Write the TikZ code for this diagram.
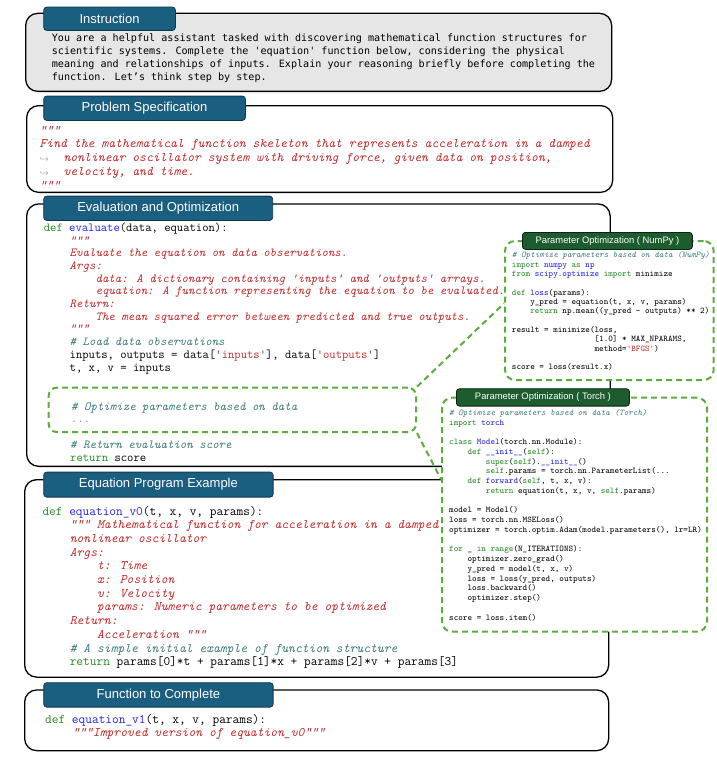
\documentclass[tikz,border=0pt]{standalone}
\usepackage{fontspec}
\usepackage{xcolor}
\usetikzlibrary{calc}

\newfontfamily\titlefont{Liberation Sans}
\newfontfamily\promptfont{DejaVu Sans Mono}[Ligatures=TeXOff]

\definecolor{tabblue}{HTML}{1A5E80}
\definecolor{tabline}{HTML}{0E3A52}
\definecolor{tabgreen}{HTML}{1D5C2E}
\definecolor{dashgreen}{HTML}{5BAE3C}
\definecolor{instrgray}{HTML}{E6E6E6}
\definecolor{kwgreen}{HTML}{218B21}
\definecolor{fnblue}{HTML}{2020F0}
\definecolor{strred}{HTML}{C42A2A}
\definecolor{cmtteal}{HTML}{3D7B7B}

% code colouring
\newcommand{\kw}[1]{\textcolor{kwgreen}{#1}}
\newcommand{\fn}[1]{\textcolor{fnblue}{#1}}
\newcommand{\strg}[1]{\textcolor{strred}{#1}}
\newcommand{\doc}[1]{\textcolor{strred}{\itshape #1}}
\newcommand{\cmt}[1]{\textcolor{cmtteal}{\itshape #1}}
\newcommand{\ind}{\hspace*{2.1em}}
\newcommand{\sk}[1]{\hspace*{#1\dimexpr0.525em\relax}}
\newcommand{\hk}{\makebox[24pt][l]{\textcolor{gray}{\upshape\footnotesize$\hookrightarrow$}}}

\begin{document}
\begin{tikzpicture}[x=1pt,y=-1pt,
    box/.style={draw=black,line width=1.3pt,rounded corners=12pt,inner sep=0pt,anchor=north west},
    tab/.style={draw=tabline,fill=tabblue,line width=0.8pt,rounded corners=3pt,inner sep=0pt,anchor=north west,text=white,font=\titlefont\fontsize{13}{15}\selectfont},
    gtab/.style={tab,draw=black!60!tabgreen,fill=tabgreen,font=\titlefont\fontsize{9.4}{11}\selectfont},
    panel/.style={draw=dashgreen,line width=2pt,dash pattern=on 6pt off 4pt,rounded corners=10pt,fill=white,inner sep=0pt,anchor=north west},
    link/.style={draw=dashgreen,line width=2pt,dash pattern=on 6pt off 4pt},
    code/.style={anchor=base west,inner sep=0pt,align=left}]
    \useasboundingbox (0,0) rectangle (717,760);

    % outer boxes
    \node[box,fill=instrgray,minimum width=586pt,minimum height=78pt] (instr) at (25,12.7) {};
    \node[box,minimum width=586pt,minimum height=86.7pt] (spec) at (26,105) {};
    \node[box,minimum width=583.5pt,minimum height=262.4pt] (eval) at (26,203.3) {};
    \node[box,minimum width=584pt,minimum height=197.5pt] (eqprog) at (24,479) {};
    \node[box,minimum width=584pt,minimum height=60.7pt] (func) at (24,689.3) {};

    % placeholder inside evaluate()
    \node[panel,fill=none,rounded corners=8pt,minimum width=367.3pt,minimum height=44.3pt] (slot) at (47.7,386.7) {};

    % optimisation panels
    \node[panel,minimum width=208.7pt,minimum height=139pt] (numpy) at (504,240) {};
    \node[panel,minimum width=265pt,minimum height=234pt] (torch) at (441,396.7) {};
    \coordinate (numpyin) at ($(numpy.north west)!0.45!(numpy.south west)$);
    \coordinate (torchin) at ($(torch.north west)!0.35!(torch.south west)$);
    \path (slot.north east) edge[link] (numpyin)
          (slot.south east) edge[link] (torchin);

    % tabs
    \node[tab,minimum width=131.7pt,minimum height=23.3pt] (tinstr) at (43.3,6.7) {Instruction};
    \node[tab,minimum width=201.7pt,minimum height=24.3pt] (tspec) at (43.3,95.7) {Problem Specification};
    \node[tab,minimum width=229pt,minimum height=24.3pt] (teval) at (43.3,195.7) {Evaluation and Optimization};
    \node[tab,minimum width=229.4pt,minimum height=25pt] (teqprog) at (43.3,471.7) {Equation Program Example};
    \node[tab,minimum width=229.4pt,minimum height=24.4pt] (tfunc) at (43.3,682.3) {Function to Complete};
    \node[gtab,minimum width=170pt,minimum height=17pt] (tnumpy) at (522,232) {Parameter Optimization ( NumPy )};
    \node[gtab,minimum width=173pt,minimum height=17.4pt] (ttorch) at (456,388.3) {Parameter Optimization ( Torch )};

    % texts (placed at the baseline of their last line)
    \node[code,font=\promptfont\fontsize{10.1}{13.1}\selectfont] (instrtxt) at (51.7,80.3) {%
You are a helpful assistant tasked with discovering mathematical function structures for\\
scientific systems. Complete the 'equation' function below, considering the physical\\
meaning and relationships of inputs. Explain your reasoning briefly before completing the\\
function. Let’s think step by step.};

    \node[code,font=\ttfamily\itshape\fontsize{13.1}{13.8}\selectfont,text=strred] (spectxt) at (39.3,189.2) {%
"""\\
Find the mathematical function skeleton that represents acceleration in a damped\\
\hk nonlinear oscillator system with driving force, given data on position,\\
\hk velocity, and time.\\
"""};

    \node[code,font=\ttfamily\fontsize{12.3}{12.7}\selectfont] (evaltxt) at (43.7,371) {%
\kw{def} \fn{evaluate}(data, equation):\\
\ind\doc{"""}\\
\ind\doc{Evaluate the equation on data observations.}\\
\ind\doc{Args:}\\
\ind\ind\doc{data: A dictionary containing 'inputs' and 'outputs' arrays.}\\
\ind\ind\doc{equation: A function representing the equation to be evaluated.}\\
\ind\doc{Return:}\\
\ind\ind\doc{The mean squared error between predicted and true outputs.}\\
\ind\doc{"""}\\
\ind\cmt{\# Load data observations}\\
\ind inputs, outputs = data[\strg{'inputs'}], data[\strg{'outputs'}]\\
\ind t, x, v = inputs};

    \node[code,font=\ttfamily\fontsize{12.3}{12.7}\selectfont] (slottxt) at (71,422.7) {%
\cmt{\# Optimize parameters based on data}\\
\textcolor{gray}{...}};

    \node[code,font=\ttfamily\fontsize{12.3}{13}\selectfont] (rettxt) at (70,461) {%
\cmt{\# Return evaluation score}\\
\kw{return} score};

    \node[code,font=\ttfamily\fontsize{8.75}{9.33}\selectfont] (numpytxt) at (511.7,369.7) {%
\cmt{\# Optimize parameters based on data (NumPy)}\\
\kw{import} \fn{numpy} \kw{as} \fn{np}\\
\kw{from} \fn{scipy.optimize} \kw{import} minimize\\
\mbox{}\\
\kw{def} \fn{loss}(params):\\
\ind y\_pred = equation(t, x, v, params)\\
\ind\kw{return} np.mean((y\_pred - outputs) ** 2)\\
\mbox{}\\
result = minimize(loss,\\
\sk{18}[1.0] * MAX\_NPARAMS,\\
\sk{18}method=\strg{'BFGS'})\\
\mbox{}\\
score = loss(result.x)};

    \node[code,font=\ttfamily\fontsize{8.75}{9.75}\selectfont] (torchtxt) at (449,620) {%
\cmt{\# Optimize parameters based on data (Torch)}\\
\kw{import} \fn{torch}\\
\mbox{}\\
\kw{class} \fn{Model}(torch.nn.Module):\\
\ind\kw{def} \fn{\_\_init\_\_}(\kw{self}):\\
\ind\ind\kw{super}(\kw{self}).\fn{\_\_init\_\_}()\\
\ind\ind\kw{self}.params = torch.nn.ParameterList(...\\
\ind\kw{def} \fn{forward}(\kw{self}, t, x, v):\\
\ind\ind\kw{return} equation(t, x, v, \kw{self}.params)\\
\mbox{}\\
model = Model()\\
loss = torch.nn.MSELoss()\\
optimizer = torch.optim.Adam(model.parameters(), lr=LR)\\
\mbox{}\\
\kw{for} \_ \kw{in} \kw{range}(N\_ITERATIONS):\\
\ind optimizer.zero\_grad()\\
\ind y\_pred = model(t, x, v)\\
\ind loss = loss(y\_pred, outputs)\\
\ind loss.backward()\\
\ind optimizer.step()\\
\mbox{}\\
score = loss.item()};

    \node[code,font=\ttfamily\fontsize{13}{13.7}\selectfont] (eqtxt) at (42.3,665.7) {%
\kw{def} \fn{equation\_v0}(t, x, v, params):\\
\ind\doc{""" Mathematical function for acceleration in a damped}\\
\ind\doc{nonlinear oscillator}\\
\ind\doc{Args:}\\
\ind\ind\doc{t: Time}\\
\ind\ind\doc{x: Position}\\
\ind\ind\doc{v: Velocity}\\
\ind\ind\doc{params: Numeric parameters to be optimized}\\
\ind\doc{Return:}\\
\ind\ind\doc{Acceleration """}\\
\ind\cmt{\# A simple initial example of function structure}\\
\ind\kw{return} params[0]*t + params[1]*x + params[2]*v + params[3]};

    \node[code,font=\ttfamily\fontsize{13}{13}\selectfont] (functxt) at (45,736.5) {%
\kw{def} \fn{equation\_v1}(t, x, v, params):\\
\ind\doc{"""Improved version of equation\_v0"""}};
\end{tikzpicture}
\end{document}
